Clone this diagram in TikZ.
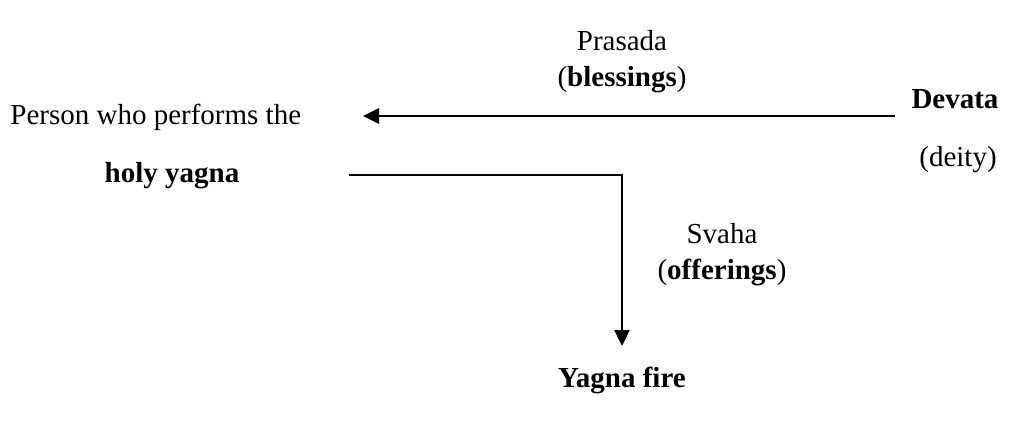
\documentclass[tikz,border=0pt]{standalone}
\usepackage{fontspec}
\setmainfont{Liberation Serif}
\usetikzlibrary{arrows.meta,positioning}
\tikzset{
  lbl/.style={font=\fontsize{14.5}{17}\selectfont, inner sep=0pt, anchor=base},
  key/.style={lbl, font=\fontsize{14.5}{17}\selectfont\bfseries},
  fl/.style={-{Triangle[length=8pt,width=7.5pt]}, line width=1.2pt},
}

\begin{document}
\begin{tikzpicture}[x=0.5pt,y=-0.5pt]
  \useasboundingbox (0,0) rectangle (1029,425);
  % the performer
  \node[lbl, anchor=base west] (pers) at (10,124) {Person who performs the};
  \node[key] (holy) at (172,182) {holy yagna};
  % the deity
  \node[key] (dev) at (955,108) {Devata};
  \node[lbl] (deity) at (958,166) {(deity)};
  % labels on the flows
  \node[lbl] (pras) at (622,50) {Prasada};
  \node[lbl] (bles) at (622,86) {(\textbf{blessings})};
  \node[lbl] (svaha) at (722,243) {Svaha};
  \node[lbl] (offr) at (722,279) {(\textbf{offerings})};
  \node[key] (fire) at (622,387) {Yagna fire};
  % flows
  \coordinate (gift) at (895,116);
  \coordinate (recv) at (363,116);
  \coordinate (give) at (349,175);
  \coordinate (drop) at (622,346);
  \draw[fl, line width=1.4pt] (gift) -- (recv);
  \draw[fl] (give) -| (drop);
\end{tikzpicture}
\end{document}
